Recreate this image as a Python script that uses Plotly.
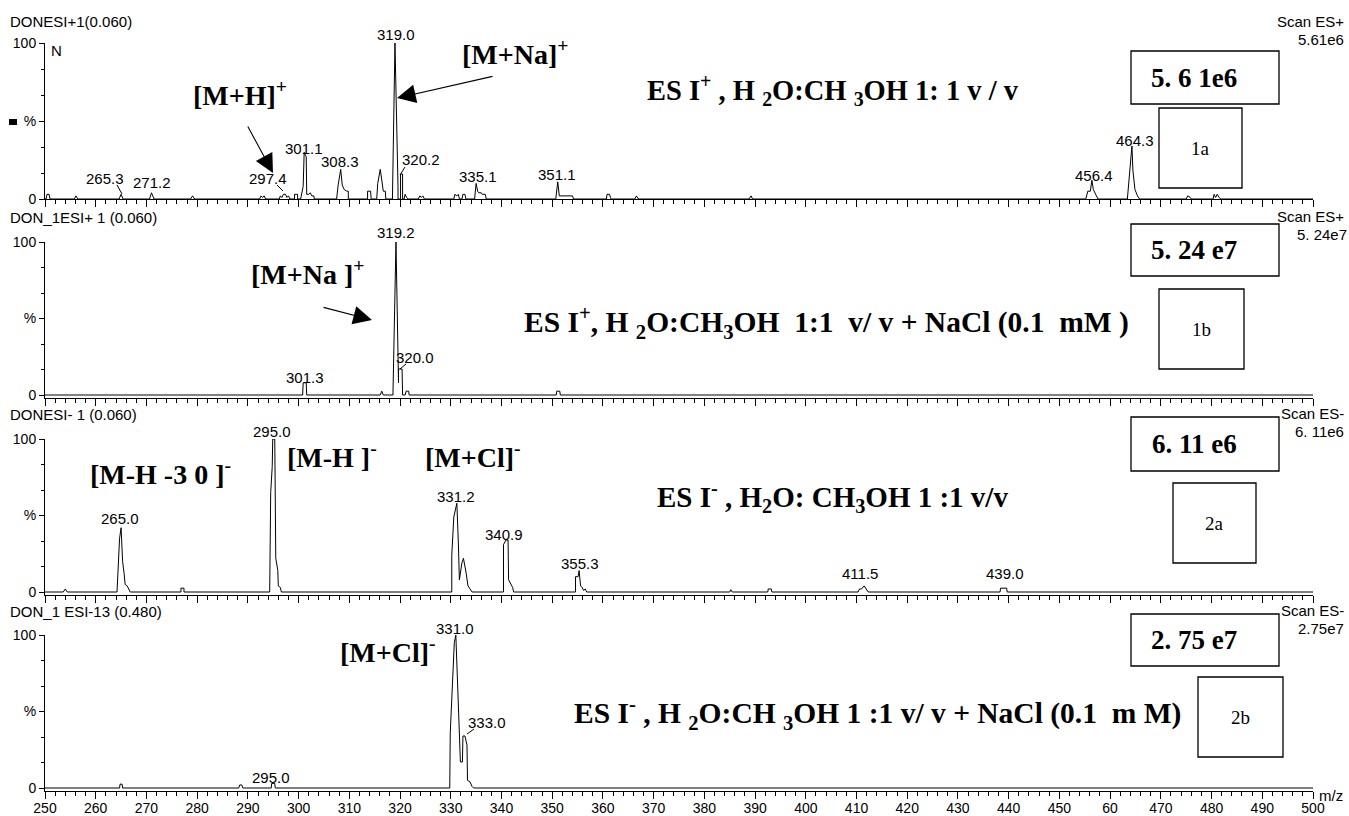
import plotly.graph_objects as go

W, H = 1349, 816

# ---------------- data (m/z, relative intensity %) ----------------
mz_1a = [250.0, 250.2, 250.4, 250.8, 251.0, 255.8, 256.1, 256.5, 264.6, 265.0, 265.4, 270.6, 271.0, 271.5,
         278.7, 279.1, 279.5, 292.3, 292.6, 292.9, 293.2, 293.5, 296.2, 296.4, 296.7, 297.0, 297.4, 297.7,
         298.0, 298.3, 299.2, 299.2, 299.8, 299.8, 300.4, 300.9, 301.1, 301.5, 301.6, 302.0, 302.3, 302.6,
         303.0, 303.1, 307.5, 307.8, 308.3, 308.6, 309.0, 309.5, 309.8, 309.8, 313.6, 313.6, 314.2, 314.3,
         315.4, 315.6, 316.1, 316.4, 316.7, 317.1, 317.2, 318.5, 319.0, 319.6, 319.6, 320.1, 320.1, 320.5,
         320.5, 320.8, 321.0, 321.3, 321.6, 323.6, 323.9, 324.2, 324.5, 324.8, 330.6, 330.8, 331.2, 331.5,
         331.7, 332.2, 332.4, 332.8, 333.0, 334.7, 335.0, 335.3, 335.5, 336.0, 336.2, 336.8, 337.0, 350.7,
         350.9, 351.1, 351.4, 352.0, 354.0, 354.2, 360.7, 360.8, 361.3, 361.5, 361.6, 366.3, 366.6, 367.0,
         388.8, 389.2, 389.5, 455.2, 455.6, 456.1, 456.4, 456.7, 457.2, 457.6, 463.4, 463.6, 464.3, 464.5,
         464.9, 465.4, 465.8, 475.0, 475.3, 475.8, 476.0, 480.3, 480.5, 480.8, 481.1, 481.5, 481.8, 500.0]
int_1a = [0, 0, 3, 3, 0, 0, 2, 0, 0, 3, 0, 0, 4, 0,
          0, 2, 0, 0, 2, 1, 2, 0, 0, 2, 1, 3, 3, 1,
          2, 0, 0, 3, 3, 0, 0, 8, 30, 27, 3, 3, 4, 2,
          2, 0, 0, 9, 19, 9, 6, 5, 5, 0, 0, 5, 5, 0,
          0, 10, 19, 11, 5, 5, 0, 0, 100, 8, 0, 0, 16, 16,
          0, 0, 3, 1, 0, 0, 2, 1, 2, 0, 0, 3, 2, 3,
          0, 0, 3, 3, 0, 0, 10, 5, 4, 4, 3, 3, 0, 0,
          6, 11, 2, 2, 2, 0, 0, 3, 3, 1, 0, 0, 2, 0,
          0, 2, 0, 0, 5, 5, 12, 6, 2, 0, 0, 8, 34, 18,
          6, 2, 0, 0, 2, 1, 0, 0, 3, 1, 3, 1, 0, 0]

mz_1b = [250.0, 300.8, 300.9, 301.5, 301.6, 316.1, 316.4, 316.7, 318.6, 319.2, 319.7, 319.7, 320.4, 320.5,
         321.0, 321.2, 321.7, 321.8, 350.8, 350.9, 351.5, 351.6, 500.0]
int_1b = [0, 0, 8, 8, 0, 0, 2.5, 0, 0, 100, 8, 17, 17, 0,
          0, 2.5, 2.5, 0, 0, 2.5, 2.5, 0, 0]

mz_2a = [250.0, 253.6, 254.0, 254.4, 264.2, 264.5, 264.7, 265.0, 265.3, 265.6, 265.8, 266.2, 266.5, 266.8,
         276.8, 276.8, 277.4, 277.4, 294.3, 294.5, 294.8, 294.9, 295.3, 295.5, 295.9, 296.0, 296.4, 296.6,
         330.2, 330.2, 330.6, 330.9, 331.2, 331.5, 331.7, 332.2, 332.5, 333.0, 333.4, 333.8, 334.2, 340.4,
         340.4, 340.9, 341.3, 341.4, 341.8, 342.2, 342.4, 354.6, 354.6, 355.1, 355.3, 355.6, 355.9, 356.2,
         356.5, 356.8, 385.0, 385.2, 385.5, 392.5, 392.6, 393.2, 393.3, 410.3, 410.6, 411.0, 411.5, 412.0,
         412.3, 438.3, 438.4, 439.6, 439.7, 500.0]
int_2a = [0, 0, 2, 0, 0, 18, 35, 42, 20, 12, 5, 4, 2, 0,
          0, 2.5, 2.5, 0, 0, 65, 82, 100, 100, 22, 14, 4, 3, 0,
          0, 24, 49, 54, 58, 32, 8, 19, 22, 13, 4, 2, 0, 0,
          31, 34, 34, 8, 5, 3, 0, 0, 10, 10, 14, 4, 3, 1,
          2, 0, 0, 1.5, 0, 0, 2, 2, 0, 0, 2, 2, 4, 1,
          0, 0, 2.5, 2.5, 0, 0]

mz_2b = [250.0, 264.7, 264.8, 265.2, 265.3, 288.2, 288.4, 288.8, 289.0, 294.6, 294.7, 295.3, 295.4, 329.8,
         329.9, 330.7, 331.0, 331.9, 332.3, 332.4, 332.8, 333.2, 333.3, 333.8, 334.2, 334.5, 500.0]
int_2b = [0, 0, 2.5, 2.5, 0, 0, 2, 2, 0, 0, 3, 3, 0, 0,
          36, 95, 100, 17, 17, 34, 34, 28, 5, 4, 1, 0, 0]

# peak labels
peaks_1a = ["265.3", "271.2", "297.4", "301.1", "308.3", "319.0", "320.2", "335.1", "351.1", "456.4", "464.3"]
peaks_1b = ["301.3", "319.2", "320.0"]
peaks_2a = ["265.0", "295.0", "331.2", "340.9", "355.3", "411.5", "439.0"]
peaks_2b = ["295.0", "331.0", "333.0"]

# headers
titles_left = ["DONESI+1(0.060)", "DON_1ESI+ 1 (0.060)", "DONESI- 1 (0.060)", "DON_1 ESI-13 (0.480)"]
scan_modes = ["Scan ES+", "Scan ES+", "Scan ES-", "Scan ES-"]
scan_max = ["5.61e6", "5. 24e7", "6. 11e6", "2.75e7"]
box_values = ["5. 6 1e6", "5. 24 e7", "6. 11 e6", "2. 75 e7"]
box_ids = ["1a", "1b", "2a", "2b"]
conditions = [
    "ES I<sup>+</sup> , H <sub>2</sub>O:CH <sub>3</sub>OH 1: 1 v / v",
    "ES I<sup>+</sup>, H <sub>2</sub>O:CH<sub>3</sub>OH  1:1  v/ v + NaCl (0.1  mM )",
    "ES I<sup>-</sup> , H<sub>2</sub>O: CH<sub>3</sub>OH 1 :1 v/v",
    "ES I<sup>-</sup> , H <sub>2</sub>O:CH <sub>3</sub>OH 1 :1 v/ v + NaCl (0.1  m M)",
]
ion_labels_1a = ["[M+H]<sup>+</sup>", "[M+Na]<sup>+</sup>"]
ion_labels_1b = ["[M+Na ]<sup>+</sup>"]
ion_labels_2a = ["[M-H -3 0 ]<sup>-</sup>", "[M-H ]<sup>-</sup>", "[M+Cl]<sup>-</sup>"]
ion_labels_2b = ["[M+Cl]<sup>-</sup>"]

x_ticks = list(range(250, 501, 10))
x_ticktext = [("60" if v == 460 else str(v)) for v in x_ticks]

# ---------------- helpers ----------------
def fx(px):
    return px / W

def fy(py):
    return 1 - py / H

SANS = "Liberation Sans, Arial, sans-serif"
SERIF = "Liberation Serif, Times New Roman, serif"

panels = [
    dict(mz=mz_1a, it=int_1a, y100=43, y0=199, ylo=0),
    dict(mz=mz_1b, it=int_1b, y100=242, y0=395, ylo=-2),
    dict(mz=mz_2a, it=int_2a, y100=439, y0=592, ylo=-2),
    dict(mz=mz_2b, it=int_2b, y100=635, y0=788, ylo=-2),
]

fig = go.Figure()
layout = dict(
    width=W, height=H, margin=dict(l=0, r=0, t=0, b=0, autoexpand=False),
    paper_bgcolor="white", plot_bgcolor="white", showlegend=False,
    font=dict(family=SANS, size=13, color="black"),
)

minor_x = [v for v in range(250, 501, 2) if v % 10 != 0]
for i, p in enumerate(panels):
    n = "" if i == 0 else str(i + 1)
    fig.add_trace(go.Scatter(x=p["mz"], y=p["it"], mode="lines",
                             line=dict(color="black", width=1),
                             xaxis="x" + n, yaxis="y" + n, hoverinfo="skip"))
    ppu = (p["y0"] - p["y100"]) / 100.0
    bottom = p["y0"] + (-p["ylo"]) * ppu
    xa = dict(
        domain=[fx(45), fx(1313)], range=[250, 500], anchor="y" + n, automargin=False,
        showline=True, linecolor="black", linewidth=1, mirror=False,
        ticks="outside", tickvals=x_ticks, ticktext=x_ticktext, ticklen=7,
        tickcolor="black", tickwidth=1, showticklabels=(i == 3),
        tickfont=dict(family=SANS, size=14, color="black"),
        minor=dict(tickvals=minor_x, ticklen=4, ticks="outside", tickcolor="black", tickwidth=1),
        showgrid=False, zeroline=False, fixedrange=True,
    )
    if i == 3:
        xa["ticklabelstandoff"] = -3
    layout["xaxis" + n] = xa
    layout["yaxis" + n] = dict(
        domain=[fy(bottom), fy(p["y100"])], range=[p["ylo"], 100], anchor="x" + n, automargin=False,
        showline=True, linecolor="black", linewidth=1,
        ticks="outside", tickvals=[0, 50, 100], ticktext=["0", "%", "100"], ticklen=5,
        tickcolor="black", tickwidth=1,
        tickfont=dict(family=SANS, size=14, color="black"),
        minor=dict(tickvals=[100 / 6, 200 / 6, 400 / 6, 500 / 6], ticklen=3, ticks="outside",
                   tickcolor="black", tickwidth=1),
        showgrid=False, zeroline=False, fixedrange=True,
    )

fig.update_layout(**layout)

ann = []
shapes = []

def text(px, py, t, size=15, family=SANS, xanchor="center", bold=False):
    if bold:
        t = "<b>" + t + "</b>"
    ann.append(dict(x=fx(px), y=fy(py), xref="paper", yref="paper", text=t, showarrow=False,
                    xanchor=xanchor, yanchor="middle",
                    font=dict(family=family, size=size, color="black")))

def rect(x0, y0, x1, y1):
    shapes.append(dict(type="rect", xref="paper", yref="paper", x0=fx(x0), x1=fx(x1), y0=fy(y0), y1=fy(y1),
                       line=dict(color="black", width=1.3), fillcolor="rgba(0,0,0,0)"))

def seg(x0, y0, x1, y1, w=1):
    shapes.append(dict(type="line", xref="paper", yref="paper", x0=fx(x0), x1=fx(x1), y0=fy(y0), y1=fy(y1),
                       line=dict(color="black", width=w)))

def arrow(tail, tip):
    ann.append(dict(x=fx(tip[0]), y=fy(tip[1]), xref="paper", yref="paper", text="", showarrow=True,
                    ax=tail[0] - tip[0], ay=tail[1] - tip[1], axref="pixel", ayref="pixel",
                    arrowhead=2, arrowsize=3.4, arrowwidth=1.1, arrowcolor="black"))

# headers
head_y = [21, 218, 414, 611]
scan_y = [(21, 39), (217, 235), (413, 431), (610, 628)]
for i in range(4):
    text(8, head_y[i], titles_left[i], size=15, xanchor="left")
    text(1346, scan_y[i][0], scan_modes[i], size=15, xanchor="right")
    text(1346 if i != 1 else 1349, scan_y[i][1], scan_max[i], size=15, xanchor="right")

# panel 1 extras
text(49, 50, "N", size=15, xanchor="left")
shapes.append(dict(type="rect", xref="paper", yref="paper", x0=fx(9), x1=fx(17), y0=fy(125), y1=fy(119),
                   line=dict(width=0), fillcolor="black"))

# peak labels (pixel positions)
pos_1a = [(105, 178), (152, 183), (268, 178), (304, 148), (340, 162), (396, 35), (421, 160), (478, 176),
          (557, 174), (1094, 175), (1135, 140)]
pos_1b = [(305, 377), (396, 232), (415, 357)]
pos_2a = [(120, 518), (272, 431), (456, 497), (504, 534), (580, 563), (860, 573), (1005, 573)]
pos_2b = [(271, 777), (455, 628), (487, 722)]
for labs, pos in [(peaks_1a, pos_1a), (peaks_1b, pos_1b), (peaks_2a, pos_2a), (peaks_2b, pos_2b)]:
    for t, (px, py) in zip(labs, pos):
        text(px, py, t, size=15)

# leader lines
seg(117, 185, 122, 194)
seg(277, 185, 283, 191)
seg(405, 167, 400, 175)
seg(406, 364, 400, 369)
seg(474, 729, 467, 734)

# ion labels
for t, (px, py) in zip(ion_labels_1a, [(240, 93), (515, 52)]):
    text(px, py, t, size=28, family=SERIF, bold=True)
for t, (px, py) in zip(ion_labels_1b, [(307, 273)]):
    text(px, py, t, size=28, family=SERIF, bold=True)
for t, (px, py) in zip(ion_labels_2a, [(160, 472), (332, 455), (473, 455)]):
    text(px, py, t, size=28, family=SERIF, bold=True)
for t, (px, py) in zip(ion_labels_2b, [(388, 650)]):
    text(px, py, t, size=28, family=SERIF, bold=True)

# arrows
arrow((247, 125), (273, 173))
arrow((494, 76), (397, 98))
arrow((322, 307), (372, 320))

# condition texts
cond_pos = [(645, 90), (522, 323), (655, 497), (572, 713)]
cond_size = [28.5, 29.5, 29, 29.5]
for t, (px, py), s in zip(conditions, cond_pos, cond_size):
    text(px, py, t, size=s, family=SERIF, xanchor="left", bold=True)

# boxes
val_boxes = [(1131, 51, 1279, 104), (1131, 224, 1279, 276), (1131, 417, 1279, 471), (1131, 614, 1279, 666)]
id_boxes = [(1159, 108, 1242, 188), (1159, 289, 1244, 369), (1173, 483, 1256, 563), (1198, 677, 1283, 757)]
for i in range(4):
    rect(*val_boxes[i])
    rect(*id_boxes[i])
    x0, y0, x1, y1 = val_boxes[i]
    text(1194, (y0 + y1) / 2, box_values[i], size=27, family=SERIF, bold=True)
    x0, y0, x1, y1 = id_boxes[i]
    text((x0 + x1) / 2, (y0 + y1) / 2, box_ids[i], size=19, family=SERIF)

# m/z label
text(1317, 795, "m/z", size=15, xanchor="left")

fig.update_layout(annotations=ann, shapes=shapes)
fig.write_html("out.html", config={"displayModeBar": False},
               post_script="document.body.style.margin='0';document.body.style.padding='0';"
                           "document.body.style.overflow='hidden';")
